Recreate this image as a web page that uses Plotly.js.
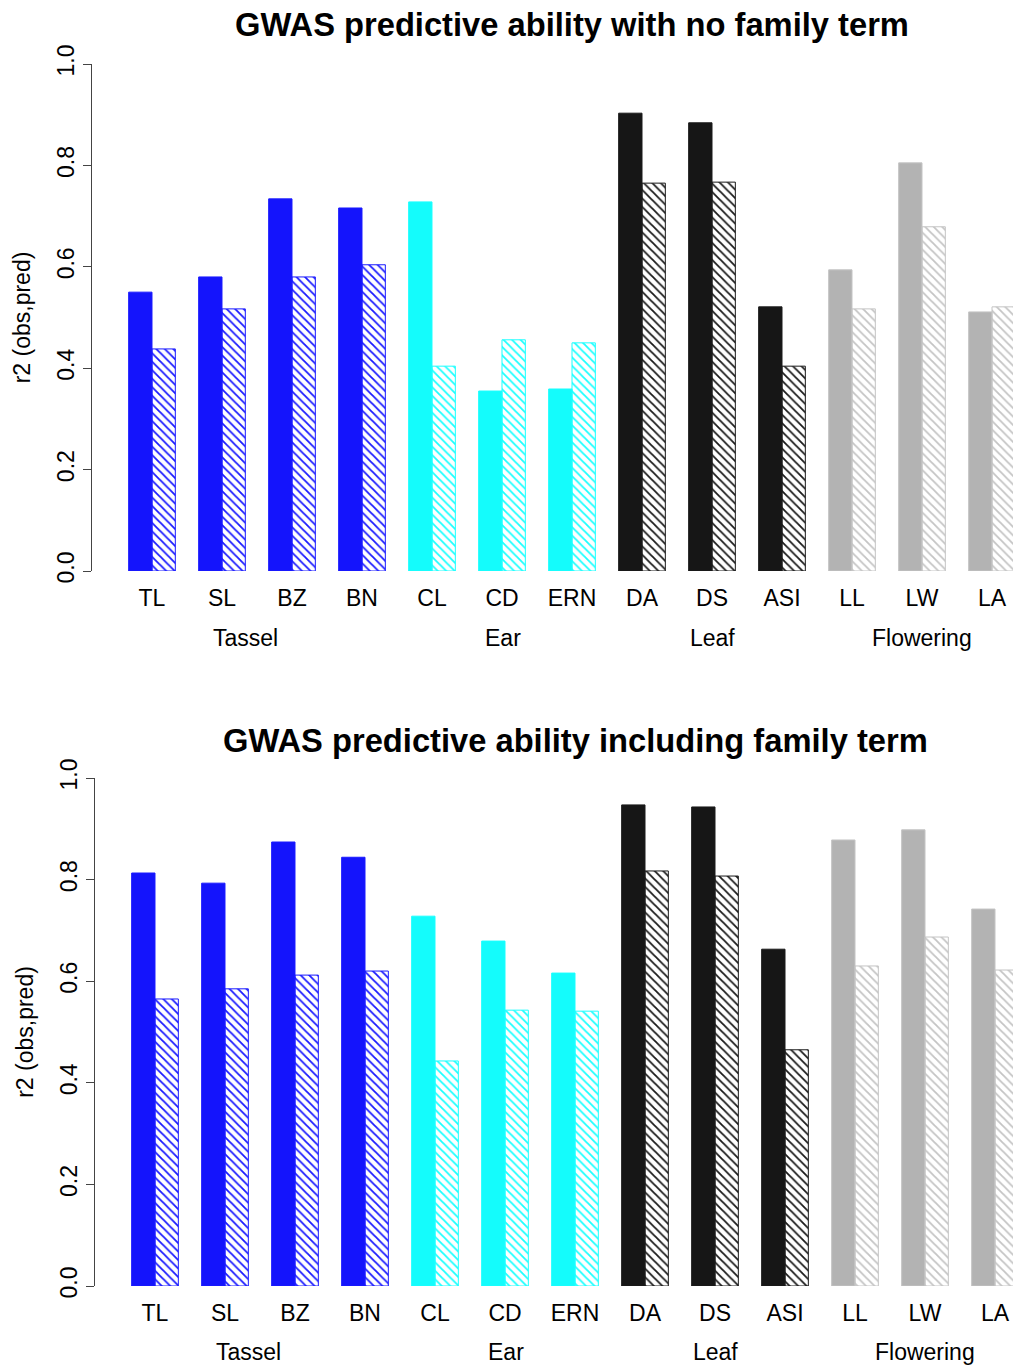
<!DOCTYPE html>
<html>
<head>
<meta charset="utf-8">
<script src="https://cdn.plot.ly/plotly-3.0.1.min.js"></script>
<style>html,body{margin:0;padding:0;background:#fff;}</style>
</head>
<body>
<div id="chart" style="width:1013px;height:1366px;"></div>
<script>
// ---- data ----
const traits = ["TL","SL","BZ","BN","CL","CD","ERN","DA","DS","ASI","LL","LW","LA"];
const traitColors = ["#1414fc","#1414fc","#1414fc","#1414fc","#14fcfc","#14fcfc","#14fcfc","#161616","#161616","#161616","#b3b3b3","#b3b3b3","#b3b3b3"];
const hatchColors = ["#1a1aff","#1a1aff","#1a1aff","#1a1aff","#1affff","#1affff","#1affff","#1a1a1a","#1a1a1a","#1a1a1a","#c4c4c4","#c4c4c4","#c4c4c4"];

// no family term
const noFamSolid   = [0.550,0.580,0.734,0.716,0.728,0.355,0.359,0.903,0.884,0.521,0.594,0.805,0.511];
const noFamHatched = [0.438,0.517,0.580,0.604,0.404,0.456,0.450,0.765,0.767,0.404,0.517,0.679,0.521];
// including family term
const famSolid     = [0.813,0.793,0.874,0.844,0.728,0.679,0.616,0.947,0.943,0.663,0.878,0.898,0.742];
const famHatched   = [0.565,0.585,0.612,0.620,0.443,0.543,0.541,0.817,0.807,0.465,0.630,0.687,0.622];

const groupLabels = ["Tassel","Ear","Leaf","Flowering"];
const groupPos    = [1.33, 5.01, 8.0, 11.0];

const titleTop = "GWAS predictive ability with no family term";
const titleBottom = "GWAS predictive ability including family term";
const yTitle = "r2 (obs,pred)";
const yTicks = [0,0.2,0.4,0.6,0.8,1.0];
const yTickText = ["0.0","0.2","0.4","0.6","0.8","1.0"];

// ---- layout helpers ----
const W = 1013, H = 1366;
const FONT = "Liberation Sans, Arial, Helvetica, sans-serif";
const py = p => 1 - p / H;
const px = p => p / W;

function solidTrace(y, xa, ya) {
  return {
    type: "bar", x: traits, y: y, xaxis: xa, yaxis: ya, showlegend: false,
    marker: {
      color: traitColors,
      line: {color: hatchColors, width: 1}
    },
    hoverinfo: "x+y"
  };
}
function hatchTrace(y, xa, ya) {
  return {
    type: "bar", x: traits, y: y, xaxis: xa, yaxis: ya, showlegend: false,
    marker: {
      color: hatchColors,
      line: {color: hatchColors, width: 1},
      pattern: {shape: "\\", bgcolor: "#ffffff", fgcolor: hatchColors, size: 6, solidity: 0.3, fillmode: "replace"}
    },
    hoverinfo: "x+y"
  };
}

const data = [
  solidTrace(noFamSolid, "x", "y"),
  hatchTrace(noFamHatched, "x", "y"),
  solidTrace(famSolid, "x2", "y2"),
  hatchTrace(famHatched, "x2", "y2")
];

const xCommon = {
  type: "category", showline: false, showgrid: false, zeroline: false,
  ticks: "", tickfont: {family: FONT, size: 23, color: "#000"}, ticklabelstandoff: 11,
  fixedrange: true
};
const yCommon = {
  range: [0, 1], showline: true, linecolor: "#444", linewidth: 1,
  showgrid: false, zeroline: false, ticks: "outside", ticklen: 8, tickcolor: "#444", tickwidth: 1,
  tickvals: yTicks, ticktext: yTickText, tickangle: -90,
  tickfont: {family: FONT, size: 23, color: "#000"},
  title: {text: yTitle, font: {family: FONT, size: 23, color: "#000"}, standoff: 15},
  fixedrange: true
};

const annotations = [];
groupLabels.forEach((g, i) => {
  annotations.push({text: g, x: groupPos[i], xref: "x", y: py(638), yref: "paper", showarrow: false,
    xanchor: "center", yanchor: "middle", font: {family: FONT, size: 23, color: "#000"}});
  annotations.push({text: g, x: groupPos[i], xref: "x2", y: py(1352), yref: "paper", showarrow: false,
    xanchor: "center", yanchor: "middle", font: {family: FONT, size: 23, color: "#000"}});
});
annotations.push({text: "<b>" + titleBottom + "</b>", x: px(575), xref: "paper", y: py(740), yref: "paper",
  showarrow: false, xanchor: "center", yanchor: "middle", font: {family: FONT, size: 32.7, color: "#000"}});

const layout = {
  width: W, height: H,
  margin: {l: 0, r: 0, t: 0, b: 0},
  paper_bgcolor: "#fff", plot_bgcolor: "#fff",
  title: {text: "<b>" + titleTop + "</b>", x: px(572), xanchor: "center", y: py(25), yanchor: "middle",
    font: {family: FONT, size: 32.7, color: "#000"}},
  barmode: "group", bargap: 1/3, bargroupgap: 0,
  xaxis: Object.assign({}, xCommon, {domain: [px(92), 1], range: [-0.857, 12.30], anchor: "y"}),
  yaxis: Object.assign({}, yCommon, {domain: [py(571), py(64)], anchor: "x"}),
  xaxis2: Object.assign({}, xCommon, {domain: [px(95), 1], range: [-0.857, 12.257], anchor: "y2"}),
  yaxis2: Object.assign({}, yCommon, {domain: [py(1286), py(778)], anchor: "x2"}),
  annotations: annotations,
  font: {family: FONT}
};

Plotly.newPlot("chart", data, layout, {displayModeBar: false, staticPlot: true});
</script>
</body>
</html>
